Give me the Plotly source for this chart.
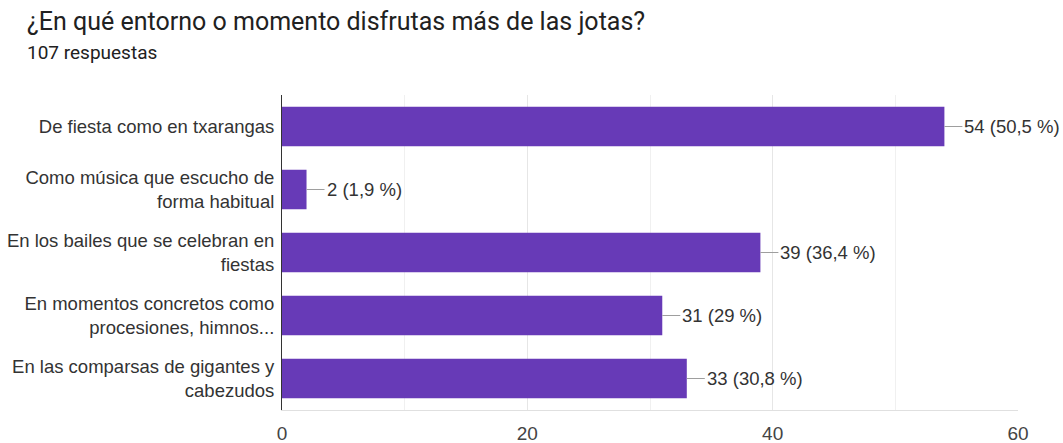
import plotly.graph_objects as go

categories = [
    "De fiesta como en txarangas",
    "Como música que escucho de<br>forma habitual",
    "En los bailes que se celebran en<br>fiestas",
    "En momentos concretos como<br>procesiones, himnos...",
    "En las comparsas de gigantes y<br>cabezudos",
]
counts = [54, 2, 39, 31, 33]
percents = ["50,5", "1,9", "36,4", "29", "30,8"]
tick_vals = [0, 20, 40, 60]

L, R, T, B = 282, 45, 95, 33
PW, PH = 1063 - L - R, 443 - T - B

fig = go.Figure()
fig.add_trace(go.Bar(
    x=counts, y=categories, orientation="h",
    marker=dict(color="#673ab7", line=dict(width=0)),
    width=0.63, hoverinfo="skip",
))

for c, cat, p in zip(counts, categories, percents):
    fig.add_annotation(
        x=c, y=cat, xref="x", yref="y",
        text=f"{c} ({p} %)", showarrow=True, arrowhead=0, arrowwidth=1,
        arrowcolor="#9e9e9e", ax=18, ay=0, xanchor="left",
        font=dict(family="Liberation Sans, Arial", size=18.5, color="#333333"),
    )

fig.add_annotation(
    xref="paper", yref="paper", x=(25 - L) / PW, y=(443 - B - 22) / PH,
    xanchor="left", yanchor="middle",
    text="¿En qué entorno o momento disfrutas más de las jotas?", showarrow=False,
    font=dict(family="Roboto", size=25, color="#212121"),
)
fig.add_annotation(
    xref="paper", yref="paper", x=(25 - L) / PW, y=(443 - B - 52) / PH,
    xanchor="left", yanchor="middle",
    text="107 respuestas", showarrow=False,
    font=dict(family="Roboto", size=19, color="#212121"),
)

fig.update_layout(
    width=1063, height=443,
    margin=dict(l=L, r=R, t=T, b=B),
    plot_bgcolor="white", paper_bgcolor="white",
    showlegend=False,
)
fig.update_xaxes(
    range=[0, 60], tickvals=tick_vals, ticktext=[str(v) for v in tick_vals],
    showgrid=True, gridcolor="#e6e6e6", gridwidth=1,
    minor=dict(dtick=10, showgrid=True, gridcolor="#f0f0f0"),
    zeroline=False, showline=True, linecolor="#e0e0e0",
    tickfont=dict(family="Liberation Sans, Arial", size=19, color="#444444"),
    ticks="", ticklabelstandoff=6, automargin=False,
)
fig.update_yaxes(
    autorange="reversed", showline=True, linecolor="#333333", linewidth=1,
    showgrid=False, ticks="", ticklabelstandoff=3, automargin=False,
    tickfont=dict(family="Liberation Sans, Arial", size=18.5, color="#333333"),
)

fig.write_html(
    "out.html",
    config={"displayModeBar": False},
    post_script="document.body.style.margin='0';document.body.style.padding='0';",
)
